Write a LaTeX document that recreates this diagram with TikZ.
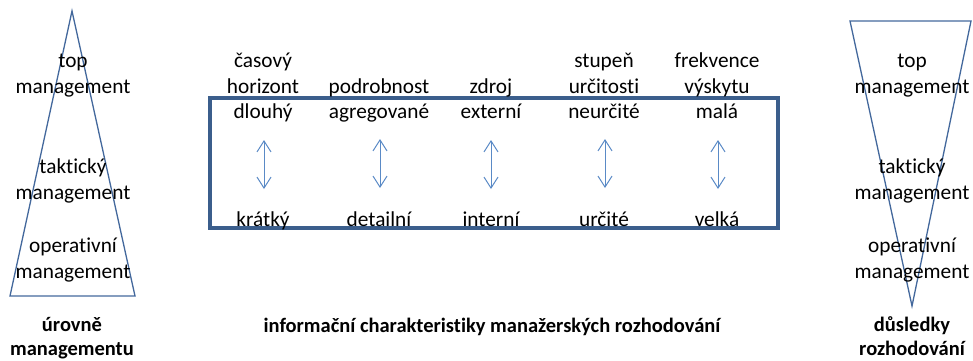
\documentclass[tikz,border=0pt]{standalone}
\usepackage{fontspec}
\setmainfont[Ligatures={NoCommon}]{Carlito}
\usetikzlibrary{arrows.meta}
\definecolor{triblue}{HTML}{43689C}
\definecolor{boxblue}{HTML}{3B5E8C}
\definecolor{arrblue}{HTML}{5A8AC6}
\tikzset{
  lbl/.style={anchor=base, inner sep=0pt, font=\fontsize{21.3}{24}\selectfont},
  capt/.style={anchor=base, inner sep=0pt, font=\fontsize{20.5}{24}\selectfont\bfseries},
  tri/.style={draw=triblue, line width=1.3pt},
  frame/.style={draw=boxblue, line width=3.8pt},
  dbl/.style={draw=arrblue, line width=1pt, {Straight Barb[length=11pt,width=14pt]}-{Straight Barb[length=11pt,width=14pt]}}
}
\begin{document}
\begin{tikzpicture}[x=1pt,y=-1pt]
\useasboundingbox (0,0) rectangle (973,360);
% left triangle
\coordinate (la) at (72,11);
\coordinate (lb) at (10,296);
\coordinate (lc) at (135,296);
\draw[tri] (la) -- (lb) -- (lc) -- cycle;
% right triangle
\coordinate (ra) at (850,21);
\coordinate (rb) at (971,21);
\coordinate (rc) at (912,306);
\draw[tri] (ra) -- (rb) -- (rc) -- cycle;
% frame
\coordinate (f1) at (210,98);
\coordinate (f2) at (778,228);
\draw[frame] (f1) rectangle (f2);

% left texts
\node[lbl] (l1) at (73,67) {top};
\node[lbl] (l2) at (73,93) {management};
\node[lbl] (l3) at (73,173) {taktický};
\node[lbl] (l4) at (73,199) {management};
\node[lbl] (l5) at (73,252) {operativní};
\node[lbl] (l6) at (73,278) {management};
\node[capt] (lc1) at (72,331) {úrovně};
\node[capt] (lc2) at (72,355) {managementu};

% right texts
\node[lbl] (r1) at (912,67) {top};
\node[lbl] (r2) at (912,93) {management};
\node[lbl] (r3) at (912,173) {taktický};
\node[lbl] (r4) at (912,199) {management};
\node[lbl] (r5) at (912,252) {operativní};
\node[lbl] (r6) at (912,278) {management};
\node[capt] (rc1) at (912,331) {důsledky};
\node[capt] (rc2) at (912,355) {rozhodování};

% columns
\node[lbl] (h1a) at (263,67) {časový};
\node[lbl] (h1b) at (263,93) {horizont};
\node[lbl] (t1) at (263,118) {dlouhý};
\node[lbl] (b1) at (263,226) {krátký};

\node[lbl] (h2b) at (379,93) {podrobnost};
\node[lbl] (t2) at (379,118) {agregované};
\node[lbl] (b2) at (379,226) {detailní};

\node[lbl] (h3b) at (491,93) {zdroj};
\node[lbl] (t3) at (491,118) {externí};
\node[lbl] (b3) at (491,226) {interní};

\node[lbl] (h4a) at (604,67) {stupeň};
\node[lbl] (h4b) at (604,93) {určitosti};
\node[lbl] (t4) at (604,118) {neurčité};
\node[lbl] (b4) at (604,226) {určité};

\node[lbl] (h5a) at (717,67) {frekvence};
\node[lbl] (h5b) at (717,93) {výskytu};
\node[lbl] (t5) at (717,118) {malá};
\node[lbl] (b5) at (717,226) {velká};

% arrows
\coordinate (a1t) at (264,140); \coordinate (a1b) at (264,189);
\coordinate (a2t) at (380,139); \coordinate (a2b) at (380,188);
\coordinate (a3t) at (491,140); \coordinate (a3b) at (491,189);
\coordinate (a4t) at (605,139); \coordinate (a4b) at (605,188);
\coordinate (a5t) at (718,140); \coordinate (a5b) at (718,189);
\draw[dbl] (a1t) -- (a1b);
\draw[dbl] (a2t) -- (a2b);
\draw[dbl] (a3t) -- (a3b);
\draw[dbl] (a4t) -- (a4b);
\draw[dbl] (a5t) -- (a5b);

\node[capt] (mc) at (492,332) {informační charakteristiky manažerských rozhodování};
\end{tikzpicture}
\end{document}
